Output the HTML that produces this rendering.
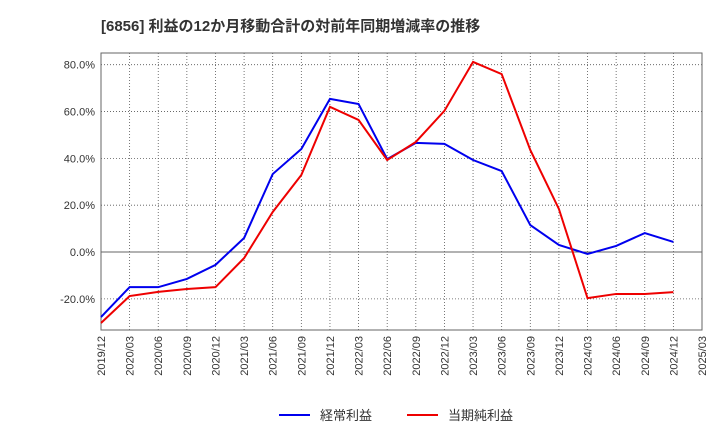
<!DOCTYPE html>
<html><head><meta charset="utf-8"><style>
body{margin:0;background:#fff;}
svg{display:block;font-family:"Liberation Sans","Noto Sans CJK JP",sans-serif;}
</style></head><body>
<svg id="chart" width="720" height="440">
<text x="101" y="31" font-size="15" font-weight="bold" fill="#333">[6856]  利益の12か月移動合計の対前年同期増減率の推移</text>
<g id="grid"></g><g id="axes"></g><g id="series"></g>
<g>
<line x1="279" y1="415" x2="310" y2="415" stroke="#0000ee" stroke-width="2"/>
<text x="320" y="420" font-size="13" fill="#333">経常利益</text>
<line x1="407" y1="415" x2="438" y2="415" stroke="#ee0000" stroke-width="2"/>
<text x="448" y="420" font-size="13" fill="#333">当期純利益</text>
</g>
</svg>
<script>
const categories=["2019/12","2020/03","2020/06","2020/09","2020/12","2021/03","2021/06","2021/09","2021/12","2022/03","2022/06","2022/09","2022/12","2023/03","2023/06","2023/09","2023/12","2024/03","2024/06","2024/09","2024/12","2025/03"];
const keijoValues=[-27.8,-15,-15,-11.5,-5.5,6,33.3,44,65.4,63.2,39.7,46.6,46.2,39.3,34.6,11.5,3,-0.8,2.6,8.1,4.3];
const junriekiValues=[-30.3,-18.8,-17,-15.8,-15,-2.6,17.1,32.9,62,56.4,39.3,47,60.3,81.2,76,43.6,18.4,-19.7,-17.9,-17.9,-17.1];
const yTicks=[-20,0,20,40,60,80];
const L=101,R=702,T=53,B=330,yMin=-33.3,yMax=85;
const ns="http://www.w3.org/2000/svg";
const xs=i=>L+(R-L)*i/(categories.length-1);
const ys=v=>B-(v-yMin)/(yMax-yMin)*(B-T);
function mk(tag,attrs,parent,text){const e=document.createElementNS(ns,tag);for(const k in attrs)e.setAttribute(k,attrs[k]);if(text!==undefined)e.textContent=text;document.getElementById(parent).appendChild(e);return e;}
categories.forEach((c,i)=>{
 const g=mk("line",{x1:xs(i),x2:xs(i),y1:T,y2:B,stroke:"#555","stroke-dasharray":"1,2","stroke-width":0.8},"grid");
 
 
 const t=mk("text",{x:0,y:0,"font-size":11,fill:"#333","text-anchor":"end",transform:`translate(${xs(i)+4},${B+6}) rotate(-90)`},"axes",c);
 
 
});
yTicks.forEach(v=>{
 const g=mk("line",{x1:L,x2:R,y1:ys(v),y2:ys(v),stroke:"#555","stroke-dasharray":"1,2","stroke-width":0.8},"grid");
 
 
 const t=mk("text",{x:L-6,y:ys(v)+4,"font-size":11,fill:"#333","text-anchor":"end"},"axes",v.toFixed(1)+"%");
 
 
});
const zl=mk("line",{x1:L,x2:R,y1:ys(0),y2:ys(0),stroke:"#666","stroke-width":1},"grid");


const fr=mk("rect",{x:L,y:T,width:R-L,height:B-T,fill:"none",stroke:"#666"},"axes");


const p1=mk("polyline",{points:keijoValues.map((v,i)=>xs(i)+","+ys(v)).join(" "),fill:"none",stroke:"#0000ee","stroke-width":2},"series");


const p2=mk("polyline",{points:junriekiValues.map((v,i)=>xs(i)+","+ys(v)).join(" "),fill:"none",stroke:"#ee0000","stroke-width":2},"series");


</script>
</body></html>
